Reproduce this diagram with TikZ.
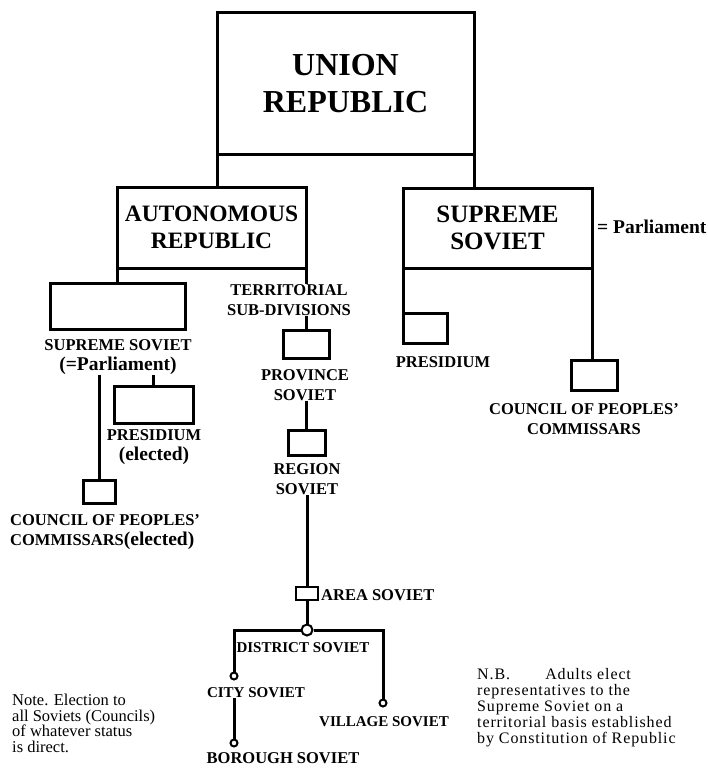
\documentclass[tikz,border=0pt]{standalone}
\usepackage{fontspec}
\setmainfont{Liberation Serif}
\newfontfamily\notefont[LetterSpace=5.5]{Liberation Serif}
\usetikzlibrary{calc}

\newcommand\smallcase[1]{{\fontsize{19.5}{20}\selectfont #1}}

\tikzset{
  box/.style={draw, line width=3pt, inner sep=0pt, outer sep=0pt},
  wire/.style={line width=3pt},
  ring/.style={draw, circle, fill=white, line width=2pt, inner sep=0pt},
  caps/.style={font=\fontsize{16.5}{20}\selectfont\bfseries, align=center, inner sep=0pt},
  tinycaps/.style={caps, font=\fontsize{15}{20}\selectfont\bfseries},
  note/.style={font=\fontsize{16.5}{15.5}\selectfont, align=left, inner sep=0pt, anchor=north west},
}

\begin{document}
\begin{tikzpicture}[x=1pt, y=-1pt]
			%%%%% START %%%%%
			\useasboundingbox (0, 0) rectangle (708, 773);
			
			% top of the tree
			\node[box, minimum width=257, minimum height=141, align=center, font=\fontsize{32}{37}\selectfont\bfseries] (union) at (345.5, 83.5) {UNION\\REPUBLIC};
			\node[box, minimum width=189, minimum height=81, align=center, font=\fontsize{23.5}{27}\selectfont\bfseries] (autorep) at (211.5, 227.5) {AUTONOMOUS\\REPUBLIC};
			\node[box, minimum width=189, minimum height=80, align=center, font=\fontsize{25}{27}\selectfont\bfseries] (suprsov) at (497.5, 228) {SUPREME\\SOVIET};
			\node[caps, anchor=west] (parl) at (597, 227) {\smallcase{= Parliament}};
			
			\draw[wire] (union.south west) -- (union.south west |- autorep.north);
			\draw[wire] (union.south east) -- (union.south east |- suprsov.north);
			
			% autonomous republic, left branch
			\node[box, minimum width=135, minimum height=46] (asov) at (117.5, 306) {};
			\node[caps] (asovlbl) at (118, 357) {SUPREME SOVIET\\\smallcase{(=Parliament)}};
			\node[box, minimum width=79, minimum height=37] (apres) at (153.5, 404.5) {};
			\node[caps] (apreslbl) at (154, 447) {PRESIDIUM\\\smallcase{(elected)}};
			\node[box, minimum width=32, minimum height=23] (acoun) at (99, 491.5) {};
			\node[caps, align=left, anchor=west] (acounlbl) at (10, 532.5) {COUNCIL OF PEOPLES'\\COMMISSARS\smallcase{(elected)}};
			
			\draw[wire] (autorep.south west) -- (autorep.south west |- asov.north);
			\draw[wire] (apres.north |- asovlbl.south) -- (apres.north);
			\draw[wire] (acoun.north |- asovlbl.south) -- (acoun.north);
			
			% territorial sub-divisions
			\node[caps] (terrlbl) at (289, 300) {TERRITORIAL\\SUB-DIVISIONS};
			\node[box, minimum width=46, minimum height=28] (prov) at (306, 344) {};
			\node[caps] (provlbl) at (305, 385) {PROVINCE\\SOVIET};
			\node[box, minimum width=37, minimum height=25] (region) at (306.5, 442.5) {};
			\node[caps] (reglbl) at (307, 479) {REGION\\SOVIET};
			\node[box, minimum width=22, minimum height=13, line width=2.4pt] (area) at (307, 593.5) {};
			\node[caps, anchor=west] (arealbl) at (321, 595) {AREA SOVIET};
			
			\draw[wire] (autorep.south east) -- (autorep.south east |- terrlbl.north);
			\draw[wire] (prov.north |- terrlbl.south) -- (prov.north);
			\draw[wire] (region.north |- provlbl.south) -- (region.north);
			\draw[wire] (area.north |- reglbl.south) -- (area.north);
			
			% district, city, village, borough
			\node[ring, minimum size=11] (dist) at (307, 630) {};
			\node[tinycaps] (distlbl) at (303, 648) {DISTRICT SOVIET};
			\node[ring, minimum size=7] (city) at (234, 676) {};
			\node[tinycaps] (citylbl) at (256, 693) {CITY SOVIET};
			\node[ring, minimum size=7] (village) at (383, 703) {};
			\node[tinycaps] (villlbl) at (384, 722) {VILLAGE SOVIET};
			\node[ring, minimum size=7] (borough) at (234, 743) {};
			\node[caps] (borolbl) at (283, 758) {BOROUGH SOVIET};
			
			\draw[wire] (area.south) -- (dist.north);
			\draw[wire] (dist.west) -- (city |- dist) -- (city.north);
			\draw[wire] (dist.east) -- (village |- dist) -- (village.north);
			\draw[wire] (city |- citylbl.south) -- (borough.north);
			
			% supreme soviet, right branch
			\node[box, minimum width=44, minimum height=30] (spres) at (425, 328) {};
			\node[caps] (spreslbl) at (443, 362) {PRESIDIUM};
			\node[box, minimum width=46, minimum height=30] (scoun) at (594, 375) {};
			\node[caps] (scounlbl) at (584, 419) {COUNCIL OF PEOPLES'\\COMMISSARS};
			
			\draw[wire] (suprsov.south west) -- (suprsov.south west |- spres.north);
			\draw[wire] (suprsov.south east) -- (suprsov.south east |- scoun.north);
			
			% notes
			\node[note] (leftnote) at (12, 694) {Note. Election to\\all Soviets (Councils)\\of whatever status\\is direct.};
			\node[note, font=\notefont\fontsize{16}{16}\selectfont] (rightnote) at (477, 668) {N.B.\hspace{2.2em}Adults elect\\representatives to the\\Supreme Soviet on a\\territorial basis established\\by Constitution of Republic};
			
			%%%%% END %%%%%
		\end{tikzpicture}
\end{document}
